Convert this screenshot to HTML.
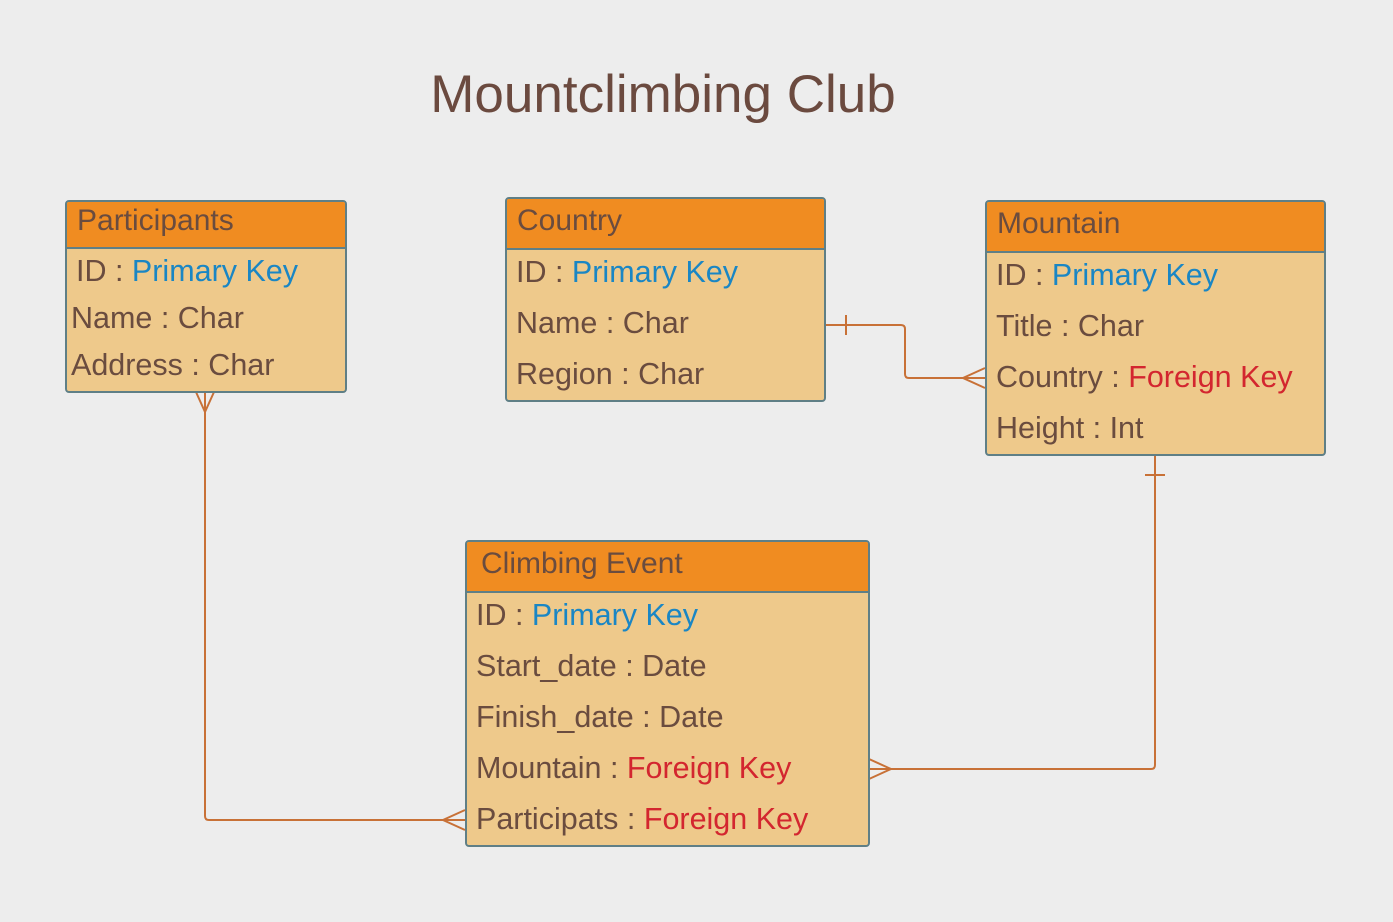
<!DOCTYPE html>
<html><head><meta charset="utf-8"><style>
body{margin:0;width:1393px;height:922px;background:#ededed;position:relative;overflow:hidden;font-family:"Liberation Sans",sans-serif;color:#6a4c3f}
.t{position:absolute;left:0;width:1326px;top:64px;text-align:center;font-size:53px;color:#6b4a3f}
.b{position:absolute;background:#eec98b;border:2px solid #5f7f86;border-radius:4px;box-sizing:border-box;overflow:hidden}
.h{background:#f08c21;border-bottom:2px solid #5f7f86;box-sizing:border-box;font-size:30px;padding-left:10px;}
.r{position:absolute;font-size:30.5px;white-space:nowrap;line-height:32px}
.k{color:#1a86c4}.f{color:#d3262f}
svg{position:absolute;left:0;top:0}
</style></head><body>
<div class="t">Mountclimbing Club</div>
<svg width="1393" height="922" fill="none" stroke="#c87137" stroke-width="2">
<path d="M205 392V816q0 4 4 4H465"/><path d="M196 392L205 412L214 392M465 810L443 820L465 830"/>
<path d="M825 325H901q4 0 4 4V374q0 4 4 4H985"/><path d="M846 315V335M985 368L963 378L985 388"/>
<path d="M1155 455V765q0 4-4 4H869"/><path d="M1145 475H1165M869 759L891 769L869 779"/>
</svg>
<div class="b" style="left:65px;top:200px;width:282px;height:193px"><div class="h" style="height:47px;line-height:38px">Participants</div>
<div class="r" style="left:9px;top:53px">ID : <span class="k">Primary Key</span></div>
<div class="r" style="left:4px;top:100px">Name : Char</div>
<div class="r" style="left:4px;top:147px">Address : Char</div></div>
<div class="b" style="left:505px;top:197px;width:321px;height:205px"><div class="h" style="height:51px;line-height:44px">Country</div>
<div class="r" style="left:9px;top:57px">ID : <span class="k">Primary Key</span></div>
<div class="r" style="left:9px;top:108px">Name : Char</div>
<div class="r" style="left:9px;top:159px">Region : Char</div></div>
<div class="b" style="left:985px;top:200px;width:341px;height:256px"><div class="h" style="height:51px;line-height:44px">Mountain</div>
<div class="r" style="left:9px;top:57px">ID : <span class="k">Primary Key</span></div>
<div class="r" style="left:9px;top:108px">Title : Char</div>
<div class="r" style="left:9px;top:159px">Country : <span class="f">Foreign Key</span></div>
<div class="r" style="left:9px;top:210px">Height : Int</div></div>
<div class="b" style="left:465px;top:540px;width:405px;height:307px"><div class="h" style="height:51px;line-height:44px;padding-left:14px">Climbing Event</div>
<div class="r" style="left:9px;top:57px">ID : <span class="k">Primary Key</span></div>
<div class="r" style="left:9px;top:108px">Start_date : Date</div>
<div class="r" style="left:9px;top:159px">Finish_date : Date</div>
<div class="r" style="left:9px;top:210px">Mountain : <span class="f">Foreign Key</span></div>
<div class="r" style="left:9px;top:261px">Participats : <span class="f">Foreign Key</span></div></div>
</body></html>
